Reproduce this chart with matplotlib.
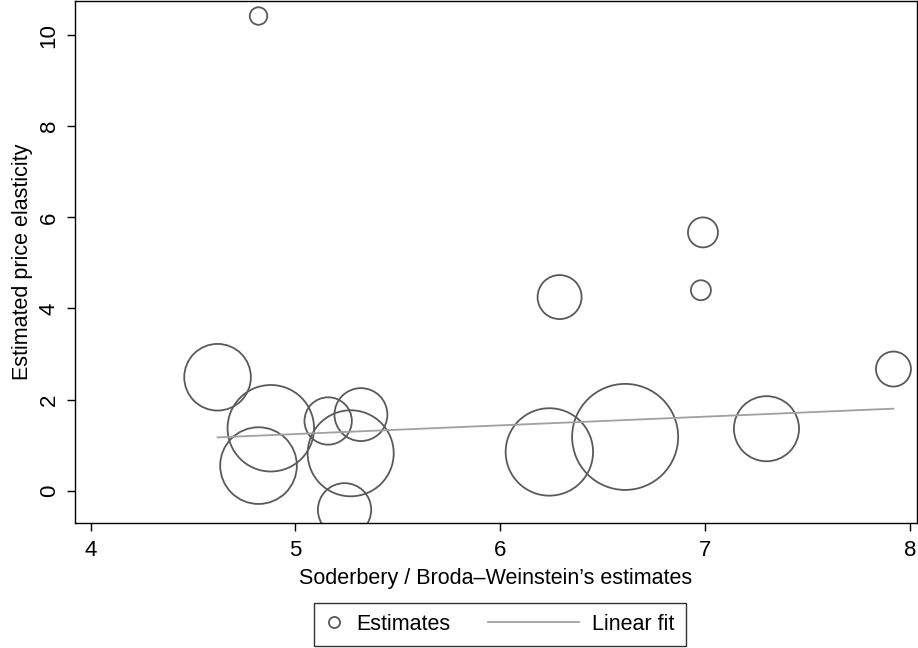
import numpy as np
import matplotlib.pyplot as plt
from matplotlib.legend_handler import HandlerBase
from matplotlib.lines import Line2D

plt.rcParams['font.family'] = ['Liberation Sans', 'DejaVu Sans']

# Soderbery / Broda-Weinstein estimates vs estimated price elasticity
sbw = [4.82, 6.99, 6.98, 6.29, 7.92, 4.62, 4.88, 5.16, 5.32, 4.82, 5.27, 5.24, 6.24, 6.61, 7.30]
elast = [10.42, 5.67, 4.40, 4.25, 2.67, 2.49, 1.37, 1.53, 1.67, 0.55, 0.82, -0.42, 0.85, 1.18, 1.36]
weight = [0.77, 2.25, 1.0, 4.84, 3.06, 11.1, 18.7, 5.6, 7.0, 14.7, 18.5, 7.1, 19.1, 28.1, 10.6]

fit_x = [4.62, 7.92]
fit_y = [1.17, 1.80]

xticks = [4, 5, 6, 7, 8]
yticks = [0, 2, 4, 6, 8, 10]

circ_col = '#5a5a5a'
fit_col = '#a0a0a0'


class LongLine(HandlerBase):
    # line handle that reaches back to the left of its box
    def create_artists(self, legend, orig_handle, xdescent, ydescent,
                       width, height, fontsize, trans):
        y = height / 2 - ydescent
        ln = Line2D([-xdescent - 3.45 * fontsize, width - xdescent], [y, y],
                    color=fit_col, lw=1.3)
        ln.set_transform(trans)
        return [ln]


fig = plt.figure(figsize=(9.18, 6.48), dpi=100)
ax = fig.add_axes([75/918, 1-523/648, (917-75)/918, 522/648])

sizes = np.array(weight) * 207.4
ax.scatter(sbw, elast, s=sizes, facecolors='none', edgecolors=circ_col,
           linewidths=1.3, zorder=2)
ax.plot(fit_x, fit_y, color=fit_col, lw=1.3, zorder=3)

ax.set_xlim(3.924, 8.035)
ax.set_ylim(-0.71, 10.75)
ax.set_xticks(xticks)
ax.set_yticks(yticks)
ax.set_yticklabels([str(t) for t in yticks], rotation=90, va='center')
ax.tick_params(direction='out', length=6, width=1, labelsize=16)
ax.tick_params(axis='x', pad=6)
ax.tick_params(axis='y', pad=5)
for s in ax.spines.values():
    s.set_linewidth(1)

ax.set_xlabel("Soderbery / Broda\u2013Weinstein\u2019s estimates", fontsize=15.5, labelpad=5)
ax.set_ylabel("Estimated price elasticity", fontsize=15.5, labelpad=4)

h1 = Line2D([], [], marker='o', ls='none', mfc='none', mec=circ_col, ms=8, mew=1.3)
h2 = Line2D([], [], color=fit_col, lw=1.3)
leg = fig.legend([h1, h2], ['Estimates', 'Linear fit'], loc='center',
                 bbox_to_anchor=(500/918, 1-624.5/648), ncol=2, fontsize=15.5,
                 frameon=True, fancybox=False, edgecolor='black',
                 handlelength=0.8, columnspacing=5.2, handletextpad=0.62,
                 borderpad=0.5, handler_map={h2: LongLine()})
leg.get_frame().set_linewidth(1)

fig.savefig('out.png', dpi=100)
